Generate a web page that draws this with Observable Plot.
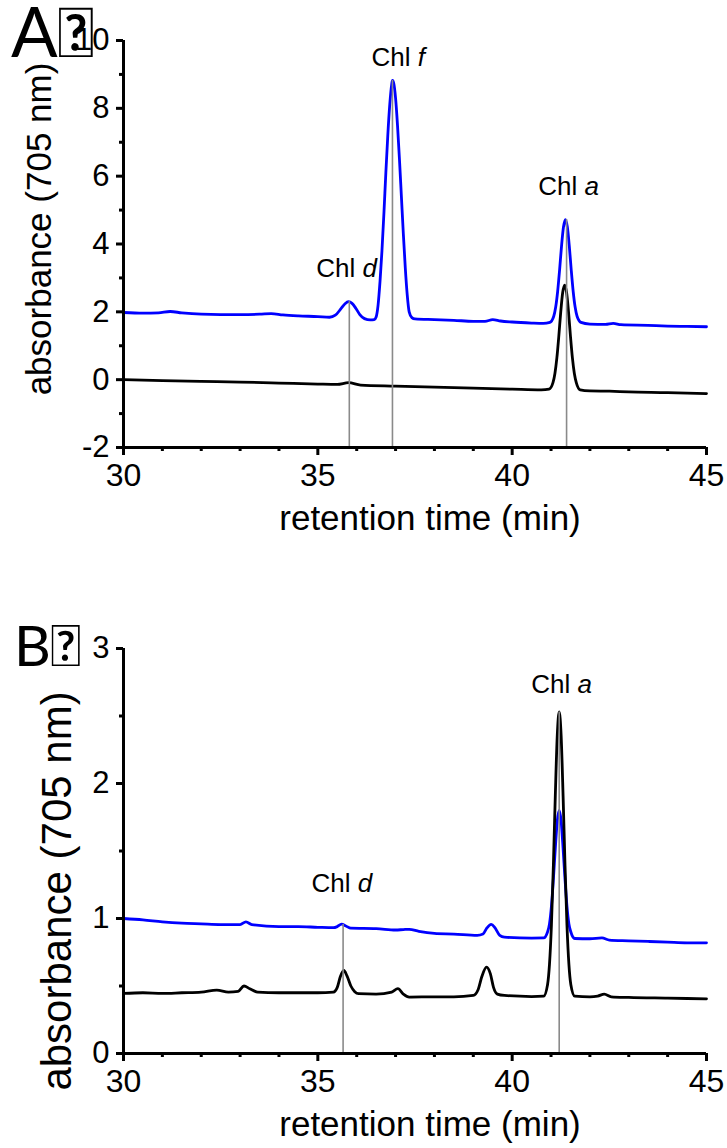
<!DOCTYPE html>
<html><head><meta charset="utf-8">
<script src="https://cdn.jsdelivr.net/npm/d3@7"></script>
<script src="https://cdn.jsdelivr.net/npm/@observablehq/plot@0.6"></script>
<style>
body{margin:0;background:#fff;}
#wrap{position:relative;width:727px;height:1148px;overflow:hidden;background:#fff;}
.panel{position:absolute;left:0;}
.letter{position:absolute;line-height:0.9;color:#000;z-index:2;white-space:nowrap;font-family:'Lato';}
</style></head><body><div id="wrap"></div>
<script>
// ---------- data ----------
const majorX = [30, 35, 40, 45];
const minorX = [31, 32, 33, 34, 36, 37, 38, 39, 41, 42, 43, 44];
const yMajorA = [-2, 0, 2, 4, 6, 8, 10];
const yMinorA = [-1, 1, 3, 5, 7, 9];
const yMajorB = [0, 1, 2, 3];
const yMinorB = [0.5, 1.5, 2.5];

const blueA = [[30,1.98],[30.5,1.96],[30.9,1.97],[31.2,2.01],[31.5,1.97],[32,1.93],[32.5,1.92],[33,1.92],[33.5,1.93],[33.8,1.95],[34.1,1.91],[34.5,1.88],[35,1.86],[35.3,1.84],[35.45,1.9],[35.6,2.1],[35.7,2.24],[35.79,2.30],[35.88,2.25],[35.98,2.1],[36.08,1.92],[36.2,1.8],[36.35,1.76],[36.45,1.77],[36.5,1.85],[36.55,2.2],[36.6,2.9],[36.65,3.8],[36.7,4.9],[36.75,6.1],[36.8,7.2],[36.85,8.1],[36.9,8.7],[36.92,8.82],[36.95,8.75],[37.0,8.3],[37.05,7.5],[37.1,6.5],[37.15,5.4],[37.2,4.3],[37.25,3.3],[37.3,2.5],[37.35,2.0],[37.42,1.83],[37.5,1.79],[38,1.77],[38.5,1.75],[39,1.72],[39.3,1.72],[39.5,1.77],[39.7,1.73],[40,1.7],[40.5,1.67],[40.8,1.66],[40.97,1.69],[41.07,1.87],[41.12,2.14],[41.17,2.60],[41.22,3.23],[41.27,3.94],[41.32,4.50],[41.37,4.72],[41.42,4.50],[41.47,3.94],[41.52,3.23],[41.57,2.60],[41.62,2.14],[41.67,1.87],[41.77,1.69],[42,1.64],[42.4,1.63],[42.6,1.66],[42.8,1.62],[43.5,1.6],[44,1.58],[44.5,1.57],[45,1.56]];

const blackA = [[30,0.0],[31,-0.03],[32,-0.05],[33,-0.07],[34,-0.1],[35,-0.13],[35.5,-0.14],[35.79,-0.09],[36.1,-0.16],[37,-0.19],[38,-0.22],[39,-0.25],[40,-0.28],[40.75,-0.3],[40.95,-0.28],[41.05,-0.09],[41.1,0.18],[41.15,0.64],[41.2,1.28],[41.25,2.0],[41.3,2.57],[41.35,2.79],[41.4,2.57],[41.45,2.0],[41.5,1.28],[41.55,0.64],[41.6,0.18],[41.65,-0.09],[41.75,-0.3],[42,-0.33],[42.5,-0.34],[43,-0.36],[44,-0.38],[45,-0.41]];

const blueB = [[30,1.0],[30.5,0.99],[31,0.975],[31.5,0.965],[32,0.96],[32.5,0.955],[33,0.955],[33.15,0.975],[33.3,0.955],[34,0.94],[34.5,0.94],[35,0.935],[35.4,0.932],[35.5,0.94],[35.61,0.958],[35.72,0.945],[35.85,0.928],[36.5,0.925],[37,0.915],[37.2,0.918],[37.35,0.92],[37.6,0.905],[38,0.89],[38.5,0.885],[39.1,0.875],[39.25,0.885],[39.35,0.93],[39.46,0.956],[39.56,0.93],[39.68,0.875],[39.8,0.862],[40.5,0.855],[40.81,0.856],[40.91,0.90],[40.96,0.96],[41.01,1.09],[41.06,1.29],[41.11,1.52],[41.16,1.72],[41.21,1.80],[41.26,1.72],[41.31,1.52],[41.36,1.29],[41.41,1.09],[41.46,0.96],[41.51,0.90],[41.61,0.852],[42.0,0.85],[42.31,0.856],[42.5,0.84],[43,0.835],[43.5,0.83],[44,0.825],[44.5,0.82],[45,0.82]];

const blackB = [[30,0.445],[30.5,0.45],[31,0.445],[31.5,0.45],[32,0.455],[32.4,0.47],[32.7,0.455],[32.95,0.46],[33.1,0.5],[33.25,0.48],[33.45,0.455],[34,0.45],[35,0.45],[35.4,0.455],[35.5,0.49],[35.58,0.57],[35.67,0.615],[35.75,0.575],[35.85,0.5],[35.95,0.458],[36.05,0.443],[36.5,0.44],[36.9,0.455],[37.06,0.48],[37.2,0.44],[37.35,0.418],[38,0.42],[38.5,0.42],[39.0,0.43],[39.12,0.47],[39.22,0.57],[39.34,0.64],[39.44,0.59],[39.52,0.49],[39.62,0.44],[39.8,0.43],[40.5,0.422],[40.81,0.425],[40.91,0.51],[40.96,0.66],[41.01,0.95],[41.06,1.39],[41.11,1.91],[41.16,2.355],[41.21,2.53],[41.26,2.355],[41.31,1.91],[41.36,1.39],[41.41,0.95],[41.46,0.66],[41.51,0.51],[41.61,0.425],[42.0,0.42],[42.2,0.425],[42.37,0.44],[42.55,0.42],[43,0.415],[44,0.41],[45,0.405]];

const markersA = [{x: 35.81, top: 2.30}, {x: 36.92, top: 8.82}, {x: 41.40, top: 4.72}];
const markersB = [{x: 35.65, top: 0.956}, {x: 41.21, top: 2.53}];

const labelsA = [{name: "Chl d", x: 35.74, y: 3.27}, {name: "Chl f", x: 37.07, y: 9.5}, {name: "Chl a", x: 41.45, y: 5.69}];
const labelsB = [{name: "Chl d", x: 35.62, y: 1.26}, {name: "Chl a", x: 41.27, y: 2.73}];

const panelLetters = ["A\uE000", "B\uE000"];
const xTitle = "retention time (min)";
const yTitle = "absorbance (705 nm)";

// ---------- drawing ----------
const FONT = "Liberation Sans, Arial, sans-serif";
function makePanel(p) {
  const y0 = p.yDomain[0];
  const svg = Plot.plot({
    width: 727, height: p.height,
    marginLeft: 123, marginRight: 21, marginTop: p.marginTop, marginBottom: p.marginBottom,
    style: "font-family: 'Liberation Sans', Arial, sans-serif; background: transparent; overflow: visible; color: #000;",
    x: {domain: [30, 45], label: null},
    y: {domain: p.yDomain, label: null},
    marks: [
      Plot.line(p.blue, {x: d => d[0], y: d => d[1], stroke: "#0000ff", strokeWidth: 2.8, curve: "monotone-x"}),
      Plot.line(p.black, {x: d => d[0], y: d => d[1], stroke: "#000000", strokeWidth: 2.8, curve: "monotone-x"}),
      Plot.ruleX(p.markers, {x: "x", y1: y0, y2: "top", stroke: "#8a8a8a", strokeWidth: 1.6}),
      Plot.text(p.labels, {x: "x", y: "y", text: "name", fontSize: 26, fontFamily: FONT, textAnchor: "middle", lineAnchor: "middle"}),
      Plot.axisX({ticks: minorX, tickSize: 4, strokeWidth: 3, tickFormat: () => "", label: null}),
      Plot.axisX({ticks: majorX, tickSize: 8, strokeWidth: 3, tickPadding: 8, fontSize: 32, fontFamily: FONT, label: null, tickFormat: d => String(d)}),
      Plot.axisY({ticks: p.yMinor, tickSize: 4, strokeWidth: 3, tickFormat: () => "", label: null}),
      Plot.axisY({ticks: p.yMajor, tickSize: 7, strokeWidth: 3, tickPadding: 7, fontSize: 31, fontFamily: FONT, label: null, tickFormat: d => String(d)}),
      Plot.ruleX([30], {stroke: "#000", strokeWidth: 3}),
      Plot.ruleY([y0], {stroke: "#000", strokeWidth: 3}),
      Plot.text([xTitle], {text: d => d, frameAnchor: "bottom", dx: 15, dy: 71, fontSize: 35, fontFamily: FONT, textAnchor: "middle", lineAnchor: "middle"}),
      Plot.text([yTitle], {text: d => d, frameAnchor: "left", rotate: -90, dx: p.yTitleDx, dy: p.yTitleDy, fontSize: p.yTitleSize, fontFamily: FONT, textAnchor: "middle", lineAnchor: "middle"})
    ]
  });
  // italic letter in peak labels
  svg.querySelectorAll("text").forEach(t => {
    const s = t.textContent;
    if (/^Chl [a-z]$/.test(s)) {
      t.textContent = "Chl ";
      const ts = document.createElementNS("http://www.w3.org/2000/svg", "tspan");
      ts.setAttribute("font-style", "italic");
      ts.textContent = s.slice(4);
      t.appendChild(ts);
    }
  });
  return svg;
}

const wrap = document.getElementById("wrap");

const svgA = makePanel({blue: blueA, black: blackA, markers: markersA, labels: labelsA,
  yDomain: [-2, 10], yMajor: yMajorA, yMinor: yMinorA,
  height: 560, marginTop: 40, marginBottom: 113, yTitleSize: 35, yTitleDx: -84, yTitleDy: -15});
svgA.classList.add("panel"); svgA.style.top = "0px";
wrap.appendChild(svgA);

const svgB = makePanel({blue: blueB, black: blackB, markers: markersB, labels: labelsB,
  yDomain: [0, 3], yMajor: yMajorB, yMinor: yMinorB,
  height: 588, marginTop: 88, marginBottom: 95, yTitleSize: 42, yTitleDx: -66, yTitleDy: 40});
svgB.classList.add("panel"); svgB.style.top = "560px";
wrap.appendChild(svgB);

const la = document.createElement("div");
la.className = "letter"; la.style.left = "11px"; la.style.top = "0px"; la.style.fontSize = "69px";
la.textContent = panelLetters[0];
wrap.appendChild(la);
const lb = document.createElement("div");
lb.className = "letter"; lb.style.left = "14px"; lb.style.top = "619px"; lb.style.fontSize = "57px";
lb.textContent = panelLetters[1];
wrap.appendChild(lb);
</script>
</body></html>
